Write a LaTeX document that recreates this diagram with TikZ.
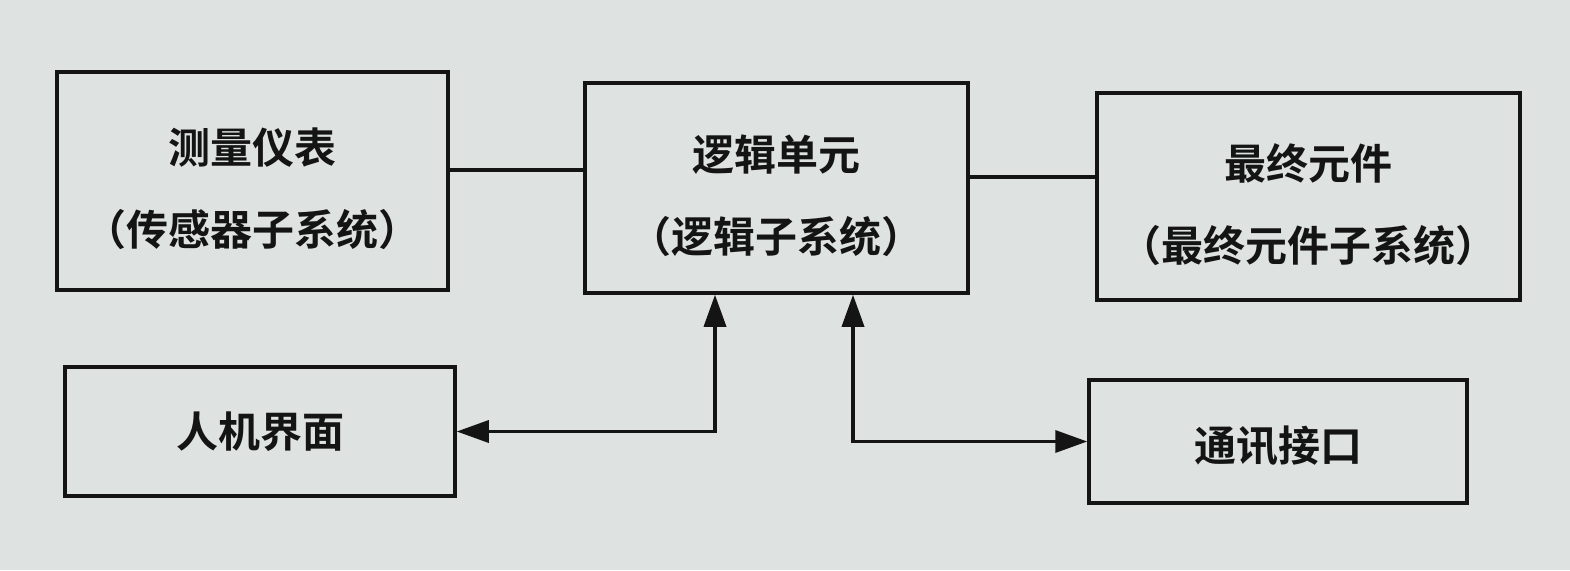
\documentclass[tikz,border=0pt]{standalone}
\usepackage{fontspec}
\newfontfamily\cjk{Noto Sans CJK SC}[BoldFont={Noto Sans CJK SC Bold}]
\usetikzlibrary{arrows.meta}
\definecolor{paper}{RGB}{222,226,225}
\definecolor{ink}{RGB}{20,20,20}
\tikzset{
  box/.style={draw=ink, line width=3.5pt, inner sep=0pt},
  lbl/.style={align=center, inner sep=0pt, yshift=-8pt,
    font=\cjk\bfseries\fontsize{42}{82}\selectfont, text=ink},
  link/.style={draw=ink, line width=3.5pt},
  arr/.style={draw=ink, line width=3.5pt, {Triangle[length=32pt,width=22pt]}-{Triangle[length=32pt,width=22pt]}}
}
\begin{document}
\begin{tikzpicture}[x=1pt,y=-1pt]
\fill[paper] (0,0) rectangle (1570,570);
\useasboundingbox (0,0) rectangle (1570,570);
\node[box, minimum width=391pt, minimum height=218pt, label={[lbl]center:测量仪表\\（传感器子系统）}] (b1) at (252.5,181) {};
\node[box, minimum width=383pt, minimum height=210pt, label={[lbl]center:逻辑单元\\（逻辑子系统）}] (b2) at (776.5,188) {};
\node[box, minimum width=423pt, minimum height=207pt, label={[lbl]center:最终元件\\（最终元件子系统）}] (b3) at (1308.5,196.5) {};
\node[box, minimum width=390pt, minimum height=129pt, label={[lbl, yshift=8pt]center:人机界面}] (b4) at (260,431.5) {};
\node[box, minimum width=378pt, minimum height=123pt, label={[lbl, yshift=4pt]center:通讯接口}] (b5) at (1278,441.5) {};
\draw[link] ([yshift=11pt]b1.east) -- ([yshift=11pt]b1.east -| b2.west);
\draw[link] ([yshift=11pt]b2.east) -- ([yshift=11pt]b2.east -| b3.west);
\draw[arr] (b4.east) -| ([xshift=-61.5pt]b2.south);
\draw[arr] ([xshift=76.5pt]b2.south) |- (b5.west);
\end{tikzpicture}
\end{document}
